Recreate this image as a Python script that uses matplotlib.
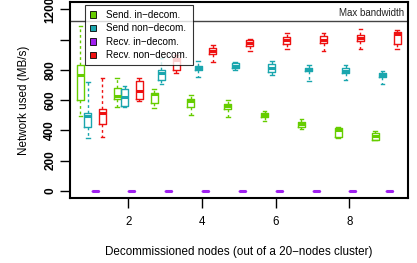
import numpy as np
import matplotlib
matplotlib.use('Agg')
import matplotlib.pyplot as plt

plt.rcParams['font.family'] = ['Liberation Sans', 'DejaVu Sans']

nodes = [1, 2, 3, 4, 5, 6, 7, 8, 9]

# per series: whisker low, q1, median, q3, whisker high (MB/s)
send_in_lo = [495, 555, 545, 501, 486, 464, 407, 347, 336]
send_in_q1 = [600, 604, 578, 552, 539, 486, 420, 354, 336]
send_in_med = [765, 626, 638, 593, 560, 501, 440, 402, 363]
send_in_q3 = [831, 677, 644, 604, 574, 516, 457, 413, 384]
send_in_hi = [1088, 743, 670, 633, 600, 529, 473, 424, 398]

send_non_lo = [347, 555, 705, 754, 802, 765, 727, 736, 703]
send_non_q1 = [420, 560, 736, 798, 813, 787, 793, 776, 750]
send_non_med = [494, 618, 780, 815, 826, 815, 802, 793, 769]
send_non_q3 = [516, 672, 798, 826, 842, 837, 815, 809, 776]
send_non_hi = [720, 692, 881, 859, 849, 859, 835, 835, 793]

recv_in = [0, 0, 0, 0, 0, 0, 0, 0, 0]

recv_non_lo = [354, 595, 776, 849, 925, 941, 923, 941, 941]
recv_non_q1 = [442, 604, 802, 908, 958, 974, 978, 989, 974]
recv_non_med = [512, 661, 868, 925, 978, 1000, 1000, 1011, 1035]
recv_non_q3 = [539, 725, 879, 945, 995, 1017, 1022, 1033, 1050]
recv_non_hi = [743, 743, 901, 963, 1002, 1046, 1044, 1068, 1061]

max_bandwidth = 1125

labels = ['Send. in\u2212decom.', 'Send non\u2212decom.',
          'Recv. in\u2212decom.', 'Recv. non\u2212decom.']
colors = ['#66CD00', '#1AA6AE', '#A020F0', '#EE1111']
offsets = [-0.3, -0.1, 0.1, 0.3]


def make_stats(lo, q1, med, q3, hi):
    return [dict(whislo=a, q1=b, med=c, q3=d, whishi=e, fliers=[])
            for a, b, c, d, e in zip(lo, q1, med, q3, hi)]


series = [
    make_stats(send_in_lo, send_in_q1, send_in_med, send_in_q3, send_in_hi),
    make_stats(send_non_lo, send_non_q1, send_non_med, send_non_q3, send_non_hi),
    make_stats(recv_in, recv_in, recv_in, recv_in, recv_in),
    make_stats(recv_non_lo, recv_non_q1, recv_non_med, recv_non_q3, recv_non_hi),
]

fig = plt.figure(figsize=(4.17, 2.63), dpi=100)
ax = fig.add_axes([0.168, 0.247, 0.811, 0.745])

for stats, col, off in zip(series, colors, offsets):
    pos = [n + off for n in nodes]
    ax.bxp(stats, positions=pos, widths=0.19, showfliers=False,
           manage_ticks=False,
           boxprops=dict(color=col, lw=1),
           medianprops=dict(color=col, lw=2.2, solid_capstyle='butt'),
           whiskerprops=dict(color=col, lw=1, linestyle=(0, (2, 2))),
           capprops=dict(color=col, lw=1), capwidths=0.1)

ax.axhline(max_bandwidth, color='#444444', lw=1)
ax.text(9.5, max_bandwidth + 15, 'Max bandwidth', ha='right', va='bottom',
        fontsize=7, color='#222222')

ax.set_xlim(0.42, 9.6)
ax.set_ylim(-48, 1248)
ax.set_xticks([2, 4, 6, 8])
ax.set_xticklabels(['2', '4', '6', '8'], fontsize=8.3)
ax.set_yticks([0, 200, 400, 600, 800, 1000, 1200])
ax.set_yticklabels(['0', '200', '400', '600', '800', '', '1200'],
                   fontsize=8.5, fontweight='bold', rotation=90, va='center')
ax.tick_params(direction='out', length=7, width=1, pad=3)
ax.tick_params(axis='x', pad=6)
for sp in ax.spines.values():
    sp.set_linewidth(1.5)

ax.set_xlabel('Decommissioned nodes (out of a 20\u2212nodes cluster)',
              fontsize=8.4, labelpad=13)
ax.set_ylabel('Network used (MB/s)', fontsize=8.4, labelpad=10)

handles = [plt.Rectangle((0, 0), 1, 1, facecolor=c, edgecolor='black', lw=0.6)
           for c in colors]
leg = ax.legend(handles, labels, loc='upper left', bbox_to_anchor=(0.045, 0.985),
                fontsize=7.1, frameon=True, fancybox=False, edgecolor='black',
                handlelength=0.6, handleheight=0.6, handletextpad=1.0,
                labelspacing=0.35, borderpad=0.5, borderaxespad=0)
leg.get_frame().set_linewidth(0.8)

fig.savefig('out.png', dpi=100)
